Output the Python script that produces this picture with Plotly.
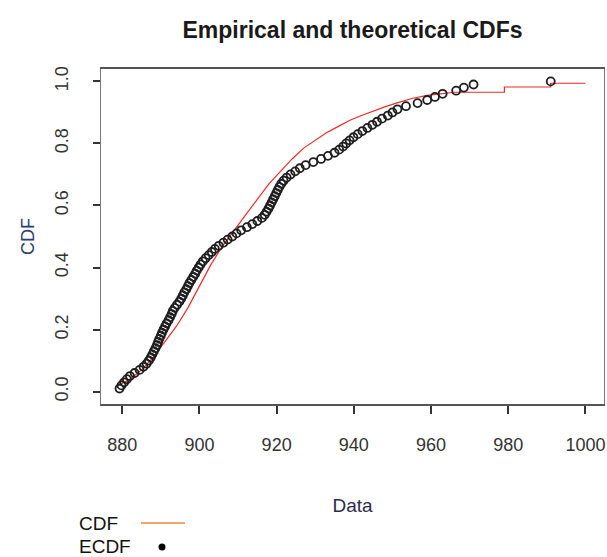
import plotly.graph_objects as go

# ECDF points (sorted data values and their empirical cumulative probabilities)
ecdf_x = [879.3, 879.8, 880.5, 881.2, 882.0, 883.2, 884.5, 885.5, 886.3, 886.9,
          887.4, 887.8, 888.2, 888.6, 889.0, 889.3, 889.6, 890.0, 890.3, 890.7,
          891.1, 891.5, 892.0, 892.4, 892.8, 893.1, 893.6, 894.2, 894.8, 895.3,
          895.7, 896.1, 896.6, 897.0, 897.4, 897.9, 898.4, 898.9, 899.3, 899.8,
          900.3, 900.9, 901.6, 902.4, 903.2, 904.0, 905.0, 906.2, 907.3, 908.5,
          909.6, 910.8, 912.3, 913.7, 915.0, 916.2, 916.9, 917.4, 917.9, 918.3,
          918.7, 919.1, 919.5, 919.9, 920.3, 920.7, 921.2, 921.8, 922.6, 923.6,
          924.8, 926.0, 927.5, 929.5, 931.5, 933.3, 935.0, 936.2, 937.2, 938.0,
          938.9, 939.9, 941.0, 942.2, 943.5, 944.8, 946.0, 947.3, 948.8, 950.0,
          951.3, 953.5, 956.5, 959.0, 961.0, 963.0, 966.5, 968.5, 971.0, 991.0]
ecdf_y = [0.01, 0.02, 0.03, 0.04, 0.05, 0.06, 0.07, 0.08, 0.09, 0.10,
          0.11, 0.12, 0.13, 0.14, 0.15, 0.16, 0.17, 0.18, 0.19, 0.20,
          0.21, 0.22, 0.23, 0.24, 0.25, 0.26, 0.27, 0.28, 0.29, 0.30,
          0.31, 0.32, 0.33, 0.34, 0.35, 0.36, 0.37, 0.38, 0.39, 0.40,
          0.41, 0.42, 0.43, 0.44, 0.45, 0.46, 0.47, 0.48, 0.49, 0.50,
          0.51, 0.52, 0.53, 0.54, 0.55, 0.56, 0.57, 0.58, 0.59, 0.60,
          0.61, 0.62, 0.63, 0.64, 0.65, 0.66, 0.67, 0.68, 0.69, 0.70,
          0.71, 0.72, 0.73, 0.74, 0.75, 0.76, 0.77, 0.78, 0.79, 0.80,
          0.81, 0.82, 0.83, 0.84, 0.85, 0.86, 0.87, 0.88, 0.89, 0.90,
          0.91, 0.92, 0.93, 0.94, 0.95, 0.96, 0.97, 0.98, 0.99, 1.00]

# Theoretical CDF curve
cdf_x = [879, 882, 885, 888, 891, 894, 897, 900, 903, 906, 909, 912, 915, 918,
         921, 924, 927, 930, 933, 936, 939, 942, 945, 948, 951, 955, 959, 963,
         966, 979, 979, 991, 991, 1000]
cdf_y = [0.02, 0.04, 0.07, 0.11, 0.16, 0.21, 0.27, 0.34, 0.41, 0.47, 0.52, 0.57,
         0.62, 0.67, 0.71, 0.75, 0.785, 0.81, 0.835, 0.855, 0.875, 0.89, 0.905,
         0.918, 0.93, 0.945, 0.955, 0.962, 0.965, 0.965, 0.982, 0.982, 0.994, 0.994]

x_ticks = [880, 900, 920, 940, 960, 980, 1000]
y_ticks = [0.0, 0.2, 0.4, 0.6, 0.8, 1.0]

FONT = "Liberation Sans, Arial, sans-serif"

fig = go.Figure()
fig.add_trace(go.Scatter(x=cdf_x, y=cdf_y, mode="lines", name="CDF",
                         line=dict(color="#ee2a2a", width=1.2), showlegend=False))
fig.add_trace(go.Scatter(x=ecdf_x, y=ecdf_y, mode="markers", name="ECDF",
                         marker=dict(symbol="circle-open", size=8, color="#1e1e1e",
                                     line=dict(width=1.8, color="#1e1e1e")),
                         showlegend=False))

W, H = 607, 557
L, R, T, B = 101, 3, 69, 153
pw, ph = W - L - R, H - T - B

def px(xp):
    return (xp - L) / pw

def py(yp):
    return (H - B - yp) / ph

fig.update_layout(
    width=W, height=H,
    margin=dict(l=L, r=R, t=T, b=B),
    paper_bgcolor="white", plot_bgcolor="white",
    font=dict(family=FONT, color="#333333"),
    title=dict(text="<b>Empirical and theoretical CDFs</b>", x=0.5, xref="paper",
               y=1 - 30 / H, yref="container", yanchor="middle",
               font=dict(size=23, color="#1a1a1a", family=FONT)),
    xaxis=dict(range=[874.5, 1004.8], tickvals=x_ticks, ticktext=[str(v) for v in x_ticks],
               showgrid=False, zeroline=False, showline=True, mirror=True,
               linecolor="#555555", linewidth=1.5, ticks="outside", ticklen=8,
               tickwidth=1.5, tickcolor="#333333", tickfont=dict(size=18, color="#333333"),
               ticklabelstandoff=16,
               title=dict(text="Data", font=dict(size=19, color="#2e2a4a"), standoff=44)),
    yaxis=dict(range=[-0.04, 1.04], tickvals=y_ticks, tickformat=".1f",
               showgrid=False, zeroline=False, showline=True, mirror=True,
               linecolor="#777777", linewidth=1.2, ticks="outside", ticklen=7,
               tickwidth=1.5, tickcolor="#333333", tickangle=-90,
               tickfont=dict(size=18, color="#333333"), ticklabelstandoff=18,
               title=dict(text="CDF", font=dict(size=18, color="#2c3e70"), standoff=12)),
    showlegend=False,
)

# Legend (text then symbol, as in the reference)
fig.add_annotation(text="CDF", xref="paper", yref="paper", x=px(77), y=py(523),
                   xanchor="left", yanchor="middle", showarrow=False,
                   font=dict(size=19, color="#111111", family=FONT))
fig.add_annotation(text="ECDF", xref="paper", yref="paper", x=px(77), y=py(546),
                   xanchor="left", yanchor="middle", showarrow=False,
                   font=dict(size=19, color="#111111", family=FONT))
fig.add_shape(type="line", xref="paper", yref="paper", x0=px(141), x1=px(185),
              y0=py(523), y1=py(523), line=dict(color="#e8893a", width=1.3))
fig.add_shape(type="circle", xref="paper", yref="paper",
              x0=px(158.5), x1=px(165.5), y0=py(543.5), y1=py(550.5),
              fillcolor="black", line=dict(color="black", width=0))

fig.write_html("out.html")
